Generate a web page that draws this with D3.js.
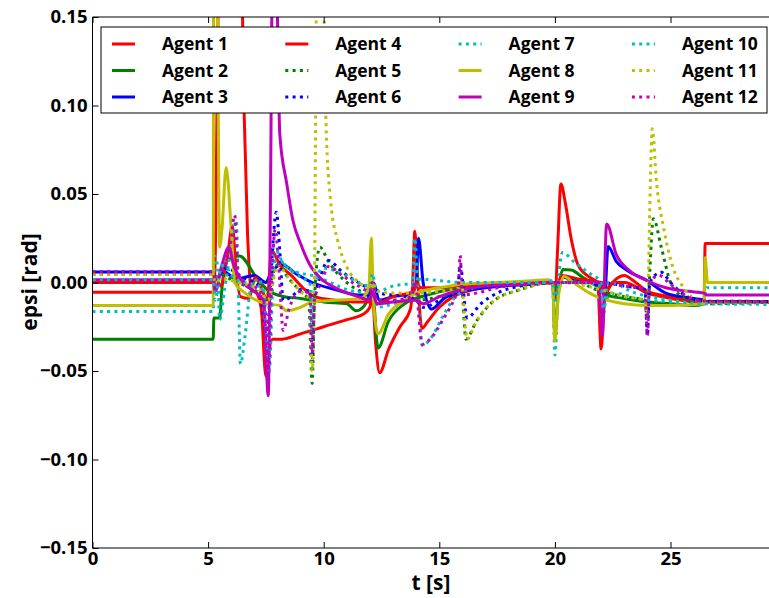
<!DOCTYPE html>
<html><head><meta charset="utf-8">
<script src="https://cdn.jsdelivr.net/npm/d3@7"></script>
<style>
body{margin:0;background:#fff}
svg{display:block}
text{font-family:"Open Sans",sans-serif;font-weight:700;fill:#000}
</style>
</head><body>
<svg id="chart" width="769" height="598"></svg>
<script>
// ---------- data ----------
const xTicks = [0, 5, 10, 15, 20, 25];
const yTicks = [0.15, 0.10, 0.05, 0.00, -0.05, -0.10, -0.15];
const xLabel = "t [s]";
const yLabel = "epsi [rad]";
const agentNames = ["Agent 1","Agent 2","Agent 3","Agent 4","Agent 5","Agent 6",
                    "Agent 7","Agent 8","Agent 9","Agent 10","Agent 11","Agent 12"];

const agent1 = [[0,-0.0055],[5.22,-0.0055],[5.3,0.01],[5.47,0.17],[6.45,0.17],[6.55,0.1],[6.7,0.03],[6.87,-0.004],[7.1,-0.006],[7.3,-0.015],[7.5,-0.053],[7.62,-0.04],[7.78,-0.032],[8.2,-0.032],[9,-0.029],[10,-0.025],[11,-0.021],[11.7,-0.018],[12.0,-0.014],[12.1,-0.006],[12.25,-0.035],[12.42,-0.051],[12.8,-0.038],[13.3,-0.025],[13.75,-0.015],[13.85,0.0],[13.94,0.029],[14.05,0.005],[14.25,-0.026],[14.5,-0.022],[15,-0.014],[15.6,-0.008],[16.5,-0.004],[17.5,-0.002],[19,-0.001],[19.9,0.0],[20.0,-0.01],[20.12,0.02],[20.26,0.0557],[20.45,0.045],[20.7,0.025],[21,0.01],[21.5,0.003],[21.85,0.0],[22.0,-0.0375],[22.15,-0.01],[22.5,0.0],[23.0,0.004],[23.4,0.001],[24,-0.005],[25,-0.008],[26,-0.01],[26.45,-0.011],[26.5,0.022],[29.5,0.022]];
const agent2 = [[0,-0.032],[5.22,-0.032],[5.25,-0.02],[5.5,-0.02],[5.6,-0.003],[5.8,0.012],[6.36,0.015],[7.08,0.003],[7.6,-0.0045],[8.3,-0.008],[9,-0.009],[10,-0.011],[11,-0.012],[11.4,-0.016],[11.7,-0.014],[12.0,-0.005],[12.08,0.0],[12.35,-0.037],[12.8,-0.022],[13.5,-0.012],[14.5,-0.007],[15.5,-0.004],[17,-0.002],[19,-0.001],[19.9,0.0],[20.0,-0.03],[20.15,-0.005],[20.35,0.0073],[20.7,0.007],[21.2,0.003],[21.8,-0.002],[22.2,-0.007],[23,-0.009],[24,-0.011],[25,-0.012],[26,-0.013],[26.45,-0.012],[26.55,-0.011],[29.5,-0.011]];
const agent3 = [[0,0.006],[5.22,0.006],[5.3,0.002],[5.7,0.006],[6.2,0.002],[7,0.004],[7.5,0.0],[7.7,0.005],[8.2,0.01],[8.8,0.005],[9.5,0.0],[10.5,-0.004],[11.5,-0.007],[12.0,-0.007],[12.15,0.0],[12.4,-0.01],[13,-0.008],[13.8,-0.006],[14.0,0.0],[14.1,0.025],[14.3,0.0],[14.66,-0.015],[15.2,-0.009],[16,-0.005],[17,-0.003],[18.5,-0.001],[19.9,0.0],[20.0,-0.006],[20.3,0.003],[21,0.001],[22.0,-0.002],[22.15,-0.008],[22.3,0.0203],[22.65,0.012],[23.1,0.007],[24,0.001],[24.8,-0.006],[26,-0.009],[26.45,-0.01],[26.55,-0.0107],[29.5,-0.0107]];
const agent4 = [[0,0],[5.22,0],[5.3,0.004],[5.55,-0.002],[5.85,0.016],[6.05,0.032],[6.2,0.008],[6.4,-0.008],[6.75,-0.009],[7.05,0.003],[7.3,-0.003],[7.55,-0.01],[7.75,0.018],[8.1,0.01],[8.6,0.004],[9.1,-0.003],[9.6,-0.008],[10.5,-0.01],[11.5,-0.011],[12.0,-0.011],[12.1,-0.004],[12.3,-0.012],[13,-0.008],[13.9,-0.005],[14.0,0.0],[14.2,-0.003],[15,-0.003],[16,-0.002],[18,-0.001],[19.9,0],[20.0,-0.006],[20.3,0.004],[21,0.002],[22,0.0],[22.1,-0.006],[22.5,0.0],[23,0.0],[24,-0.006],[25,-0.009],[26.45,-0.011],[26.55,-0.011],[29.5,-0.011]];
const agent5 = [[0,0.0045],[5.22,0.0045],[5.3,0.0],[5.6,0.004],[6.2,0.0],[7,-0.004],[7.5,-0.01],[7.7,0.0],[8.0,0.01],[8.5,0.002],[9.0,-0.005],[9.35,-0.01],[9.5,-0.057],[9.6,-0.01],[9.83,0.02],[10.2,0.012],[11,0.0],[12.0,-0.006],[12.1,0.0],[12.3,-0.01],[13,-0.01],[14,-0.01],[15,-0.008],[15.8,-0.005],[15.95,0.0],[16.15,-0.032],[16.6,-0.022],[17.3,-0.011],[18.5,-0.004],[19.9,0.0],[20.0,-0.003],[20.5,0.002],[22,-0.005],[23,-0.008],[23.9,-0.01],[24.0,-0.02],[24.08,0.0],[24.26,0.036],[24.6,0.02],[25,0.0],[25.5,-0.008],[26.2,-0.012],[26.5,-0.012],[29.5,-0.011]];
const agent6 = [[0,0.006],[5.22,0.006],[5.3,0.003],[5.8,0.008],[6.5,0.003],[7.2,-0.002],[7.55,-0.03],[7.7,0.0],[7.95,0.0397],[8.1,0.018],[8.25,-0.01],[8.6,-0.008],[9.0,-0.004],[9.4,-0.005],[9.5,-0.044],[9.6,-0.01],[9.9,0.005],[10.2,0.0124],[10.8,0.006],[11.5,0.0],[12.0,-0.003],[12.1,0.0],[12.4,-0.006],[13.5,-0.008],[14.0,-0.01],[14.3,-0.014],[15,-0.01],[15.8,-0.004],[15.9,0.01],[16.2,-0.02],[16.8,-0.012],[17.5,-0.006],[18.5,-0.002],[19.9,0.0],[20.2,0.0],[22,0.0],[23,-0.002],[23.9,-0.004],[24.0,-0.03],[24.1,0.0],[24.6,0.0058],[25,0.0],[25.6,-0.007],[26.4,-0.0105],[29.5,-0.0107]];
const agent7 = [[0,-0.0164],[5.22,-0.0164],[5.28,0.015],[5.4,0.01],[5.5,-0.021],[5.7,-0.005],[6.0,0.02],[6.22,0.035],[6.3,0.0],[6.4,-0.046],[6.6,-0.03],[6.85,-0.003],[7.2,0.002],[7.45,-0.02],[7.6,-0.058],[7.7,-0.01],[7.85,0.02],[8.2,0.012],[8.8,0.006],[9.5,0.004],[10.3,0.0],[11,-0.004],[12,-0.006],[12.1,0.0],[12.3,-0.014],[13,-0.012],[13.8,-0.008],[13.94,0.025],[14.05,0.0],[14.27,-0.0356],[14.6,-0.032],[15.2,-0.018],[15.7,-0.008],[16.5,-0.003],[17.5,-0.001],[18.5,0.0],[19.9,0.0],[20.0,-0.041],[20.15,0.0],[20.33,0.017],[20.8,0.012],[21.4,0.006],[22.0,0.0],[22.05,-0.025],[22.2,-0.01],[22.6,-0.006],[23.5,-0.009],[25,-0.011],[26,-0.012],[26.45,-0.012],[26.55,-0.003],[29.5,-0.003]];
const agent8 = [[0,-0.013],[5.22,-0.013],[5.24,0.17],[5.38,0.17],[5.5,0.02],[5.6,0.03],[5.78,0.065],[6.0,0.03],[6.15,0.0],[6.6,-0.006],[7.5,-0.012],[8.1,-0.013],[8.4,-0.016],[9.0,-0.014],[9.5,-0.011],[10.5,-0.01],[11.6,-0.009],[11.95,-0.003],[12.06,0.025],[12.15,-0.01],[12.35,-0.029],[12.8,-0.018],[13.5,-0.01],[14,-0.006],[15,-0.003],[16,-0.001],[17.5,0.0],[19,0.001],[19.7,0.0015],[19.9,0.0],[20.0,-0.033],[20.15,-0.008],[20.4,0.0034],[20.8,0.0],[21.5,-0.006],[22,-0.009],[23,-0.012],[24,-0.013],[25,-0.013],[26.45,-0.012],[26.5,0.014],[26.6,0.0],[29.5,0.0]];
const agent9 = [[0,0.0015],[5.22,0.0015],[5.3,-0.005],[5.6,0.01],[5.9,0.02],[6.1,0.01],[6.5,0.0],[7.0,-0.005],[7.4,-0.01],[7.6,-0.064],[7.7,0.05],[7.78,0.17],[7.95,0.17],[8.1,0.084],[8.4,0.056],[8.67,0.035],[9.0,0.022],[9.4,0.01],[9.9,0.002],[10.5,-0.003],[11.5,-0.008],[12,-0.01],[12.1,-0.005],[12.3,-0.012],[13,-0.011],[14,-0.01],[14.3,-0.012],[15,-0.008],[16,-0.004],[17,-0.002],[18.5,-0.001],[19.9,0.0],[20.1,0.0],[21,0.0],[21.9,0.0],[22.05,-0.03],[22.24,0.0331],[22.65,0.016],[23.2,0.007],[24,0.001],[24.8,-0.003],[25.8,-0.005],[26.45,-0.006],[26.55,-0.007],[29.5,-0.007]];
const agent10 = [[0,0.0015],[5.22,0.0015],[5.3,-0.01],[5.5,0.005],[5.7,0.012],[5.95,0.005],[6.2,0.002],[6.6,0.0],[7.2,-0.002],[7.4,-0.004],[7.65,-0.05],[7.8,0.0],[7.95,0.015],[8.3,0.01],[9,0.003],[9.4,0.0],[9.5,-0.03],[9.6,0.0],[10,0.008],[10.8,0.005],[11.5,0.0],[12,-0.002],[12.1,0.005],[12.3,-0.005],[13,-0.002],[13.9,0.0],[14.2,0.002],[15,0.001],[16,0.0],[17,0.0],[19.5,0.0],[19.9,0.001],[20,-0.01],[20.2,0.0],[21,0.0],[22,-0.002],[22.1,-0.015],[22.3,0.0],[23.5,-0.006],[25,-0.01],[26.45,-0.012],[29.5,-0.0124]];
const agent11 = [[0,0.0045],[5.22,0.0045],[5.3,0.0],[5.6,0.002],[6.3,0.0],[7.2,-0.004],[7.6,-0.01],[7.8,0.0],[8.0,0.01],[8.5,0.002],[9.0,-0.005],[9.4,-0.01],[9.5,-0.05],[9.6,0.0],[9.7,0.17],[9.97,0.17],[10.1,0.09],[10.3,0.046],[10.6,0.024],[11.0,0.0087],[11.6,-0.0007],[12.0,-0.004],[12.1,0.0],[12.3,-0.005],[13,-0.006],[14,-0.006],[15,-0.005],[15.85,-0.003],[15.95,0.0],[16.2,-0.032],[16.6,-0.022],[17.3,-0.011],[18.5,-0.004],[19.9,0.0],[20.2,0.0],[22,-0.004],[23,-0.008],[23.9,-0.01],[24.0,-0.02],[24.1,0.04],[24.21,0.0868],[24.4,0.056],[24.7,0.031],[25.1,0.0087],[25.55,-0.0026],[26.4,-0.011],[29.5,-0.0107]];
const agent12 = [[0,0.006],[5.22,0.006],[5.3,0.002],[5.6,0.006],[5.95,0.02],[6.15,0.038],[6.3,0.005],[6.6,0.0],[7.2,-0.004],[7.5,-0.02],[7.62,-0.05],[7.75,0.0],[7.9,0.03],[8.05,0.01],[8.25,-0.027],[8.5,-0.015],[9.0,-0.005],[9.4,-0.006],[9.5,-0.04],[9.6,-0.01],[9.9,0.0],[10.2,0.009],[10.8,0.004],[11.5,-0.002],[12,-0.005],[12.1,0.0],[12.3,-0.01],[13,-0.01],[13.8,-0.008],[13.94,0.0],[14.27,-0.035],[14.6,-0.032],[15.2,-0.02],[15.7,-0.008],[15.82,-0.004],[15.9,0.0153],[16.0,-0.007],[16.6,-0.006],[17.5,-0.003],[18.5,-0.001],[19.9,0.0],[20.2,0.0],[22,0.0],[23,-0.002],[23.9,-0.004],[24.0,-0.03],[24.1,0.0],[24.5,0.004],[25,-0.001],[25.6,-0.007],[26.4,-0.0105],[29.5,-0.0107]];

const agentData = [agent1,agent2,agent3,agent4,agent5,agent6,agent7,agent8,agent9,agent10,agent11,agent12];

// ---------- styles ----------
const agentColors = ["#ff0000","#008000","#0000ff","#ff0000","#008000","#0000ff",
                     "#00bfbf","#bfbf00","#bf00bf","#00bfbf","#bfbf00","#bf00bf"];
const agentDotted = [false,false,false,false,true,true,true,false,false,true,true,true];

// ---------- layout ----------
const svg = d3.select("#chart");
const plot = {left: 92.5, top: 17, bottom: 548};
const x = d3.scaleLinear().domain([0, 30]).range([plot.left, plot.left + 30 * 23.12]);
const y = d3.scaleLinear().domain([-0.15, 0.15]).range([plot.bottom, plot.top]);
const right = 790;

svg.append("defs").append("clipPath").attr("id","clip")
  .append("rect").attr("x", plot.left).attr("y", plot.top)
  .attr("width", right - plot.left).attr("height", plot.bottom - plot.top);

const line = d3.line().x(d => x(d[0])).y(d => y(d[1])).curve(d3.curveMonotoneX);

const lines = svg.append("g").attr("clip-path","url(#clip)");
agentData.forEach((data, i) => {
  lines.append("path").datum(data)
    .attr("d", line)
    .attr("fill","none")
    .attr("stroke", agentColors[i])
    .attr("stroke-width", 3)
    .attr("stroke-linejoin","round")
    .attr("stroke-dasharray", agentDotted[i] ? "3,4.3" : null);
});

// axes
const fmt = d3.format(".2f");
const gL = svg.append("g").attr("transform",`translate(${plot.left},0)`)
  .call(d3.axisLeft(y).tickValues(yTicks).tickFormat(fmt).tickSizeInner(-6).tickSizeOuter(0).tickPadding(5));
const gB = svg.append("g").attr("transform",`translate(0,${plot.bottom})`)
  .call(d3.axisBottom(x).tickValues(xTicks).tickFormat(d3.format("d")).tickSizeInner(-6).tickSizeOuter(0).tickPadding(4));
const gT = svg.append("g").attr("transform",`translate(0,${plot.top})`)
  .call(d3.axisTop(x).tickValues(xTicks).tickFormat("").tickSizeInner(-6).tickSizeOuter(0));
[gL,gB,gT].forEach(g => {
  g.selectAll("text").style("font-size","18.5px").style("font-family",'"Open Sans",sans-serif').style("font-weight","700").attr("fill","#000");
  g.selectAll("path,line").attr("stroke","#000").attr("stroke-width",1);
});
gL.select(".domain").attr("d", `M0,${plot.top}V${plot.bottom}`);
gB.select(".domain").attr("d", `M${plot.left},0H${right}`);
gT.select(".domain").attr("d", `M${plot.left},0H${right}`);

svg.append("text").attr("x", 431).attr("y", 590).attr("text-anchor","middle")
  .style("font-size","21px").text(xLabel);
svg.append("text").attr("transform","translate(37,282) rotate(-90)").attr("text-anchor","middle")
  .style("font-size","21px").text(yLabel);

// legend
const leg = svg.append("g");
leg.append("rect").attr("x",101).attr("y",27).attr("width",666).attr("height",86)
  .attr("fill","#fff").attr("stroke","#000").attr("stroke-width",1);
agentNames.forEach((name, i) => {
  const col = Math.floor(i / 3), row = i % 3;
  const lx = 112 + col * 173.3, ly = 44 + row * 26.5;
  leg.append("line").attr("x1", lx).attr("x2", lx + 23).attr("y1", ly).attr("y2", ly)
    .attr("stroke", agentColors[i]).attr("stroke-width", 3)
    .attr("stroke-dasharray", agentDotted[i] ? "3,4.3" : null);
  leg.append("text").attr("x", lx + 50).attr("y", ly + 6).style("font-size","17.5px").text(name);
});
</script>
</body></html>
